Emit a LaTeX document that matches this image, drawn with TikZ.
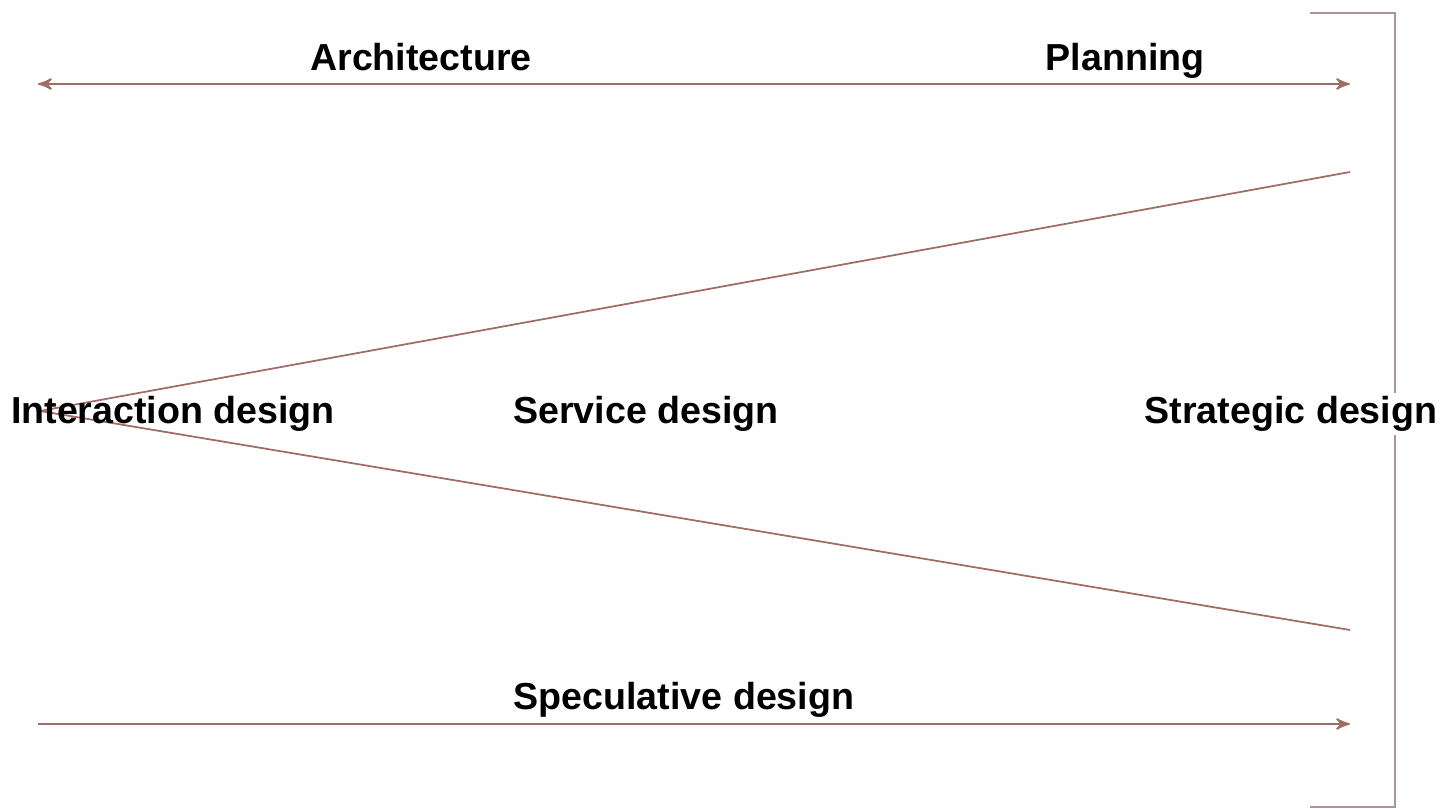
\documentclass[tikz,border=0pt]{standalone}
\usepackage{fontspec}
\setmainfont{Liberation Sans}
\usetikzlibrary{arrows}
\definecolor{fieldline}{RGB}{160,108,102}
\definecolor{bracketline}{RGB}{172,150,148}

\begin{document}
\begin{tikzpicture}[
    field/.style={font=\fontsize{10.7}{12}\selectfont\bfseries,inner sep=1pt,anchor=base},
    axis/.style={fieldline,line width=0.5pt,>=stealth'}
]
\useasboundingbox (0,0) rectangle (14.4,8.09);

% the two axes
\coordinate (al) at (0.38,7.25);
\coordinate (ar) at (13.50,7.25);
\coordinate (sl) at (0.38,0.85);
\coordinate (sr) at (13.50,0.85);
\draw[axis,<->] (al)--(ar);
\draw[axis,->] (sl)--(sr);

% the wedge
\coordinate (apex) at (0.40,3.98);
\coordinate (wt) at (13.50,6.37);
\coordinate (wb) at (13.50,1.79);
\draw[axis] (wt)--(apex)--(wb);

% the bracket
\coordinate (bt) at (13.10,7.96);
\coordinate (bb) at (13.10,0.02);
\draw[bracketline,line width=0.6pt] (bt)-|(13.95,0.02)--(bb);

\node[field] (arch) at (4.21,7.385) {Architecture};
\node[field] (plan) at (11.25,7.385) {Planning};
\node[field] (inter) at (1.73,3.855) {Interaction design};
\node[field] (serv) at (6.46,3.855) {Service design};
\node[field,fill=white] (strat) at (12.91,3.855) {Strategic design};
\node[field] (spec) at (6.84,0.995) {Speculative design};

\end{tikzpicture}
\end{document}
